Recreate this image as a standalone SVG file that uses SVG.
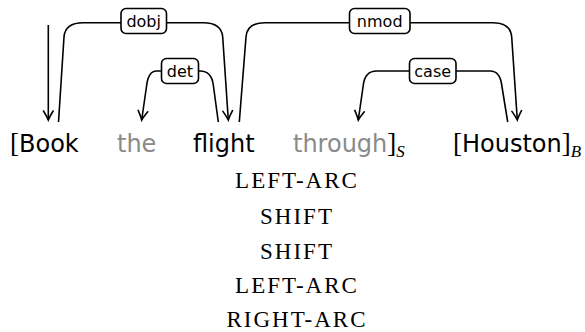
<svg xmlns="http://www.w3.org/2000/svg" width="585" height="332" viewBox="0 0 585 332">
  <style>
    .arc { fill: none; stroke: #000; stroke-width: 1.6; stroke-linejoin: round; }
    .lbl { fill: #fff; stroke: #000; stroke-width: 1.6; }
    .lt { font-family: "DejaVu Sans", sans-serif; font-size: 16px; text-anchor: middle; fill: #000; }
    .w { font-family: "DejaVu Sans", sans-serif; font-size: 24px; fill: #000; }
    .g { fill: #8a8a8a; }
    .br { font-family: "Liberation Serif", serif; font-size: 27px; }
    .sub { font-family: "Liberation Serif", serif; font-style: italic; font-size: 17px; }
    .act { font-family: "Liberation Serif", serif; font-size: 23px; letter-spacing: 2px; text-anchor: middle; fill: #000; }
  </style>
  <defs>
    <marker id="to" viewBox="-11 -6 13 12" markerWidth="13" markerHeight="12" refX="0" refY="0" orient="auto" markerUnits="userSpaceOnUse">
      <path d="M-9,-4.8 Q-3,-1.2 0,0 Q-3,1.2 -9,4.8" fill="none" stroke="#000" stroke-width="1.6" stroke-linecap="round"/>
    </marker>
  </defs>

  <!-- dependency arcs -->
  <g id="connectors">
    <path id="root" class="arc" d="M48.3,25 L48.3,120" marker-end="url(#to)"/>
    <path id="arc-dobj" class="arc" d="M58.5,122 L64,37 Q65,22.7 83.3,22.7 L203.3,22.7 Q221.5,22.7 222.7,37 L228.3,120" marker-end="url(#to)"/>
    <path id="arc-det" class="arc" d="M218.3,122 L213.3,85 Q211.5,71 200,71 L156.7,71 Q148.5,71 146.7,85 L141.7,120" marker-end="url(#to)"/>
    <path id="arc-nmod" class="arc" d="M239.3,122 L246,37 Q247,22.7 265,22.7 L493,22.7 Q510.5,22.7 511.7,37 L517.3,120" marker-end="url(#to)"/>
    <path id="arc-case" class="arc" d="M507.7,122 L501.7,85 Q500,71 490,71 L376.7,71 Q365,71 363.3,85 L358.3,120" marker-end="url(#to)"/>
  </g>

  <!-- arc labels -->
  <g id="label-dobj">
    <rect class="lbl" x="121" y="8.5" width="45.5" height="25" rx="5"/>
    <text class="lt" x="143.7" y="26.5">dobj</text>
  </g>
  <g id="label-det">
    <rect class="lbl" x="161.5" y="58.5" width="37" height="25" rx="5"/>
    <text class="lt" x="180" y="76.5">det</text>
  </g>
  <g id="label-nmod">
    <rect class="lbl" x="349.5" y="8.5" width="60.5" height="25" rx="5"/>
    <text class="lt" x="379.7" y="26.5">nmod</text>
  </g>
  <g id="label-case">
    <rect class="lbl" x="409.5" y="58.5" width="46.5" height="25" rx="5"/>
    <text class="lt" x="432.7" y="76.5">case</text>
  </g>

  <!-- sentence tokens -->
  <g id="tok-book"><text x="10" y="152"><tspan class="br">[</tspan><tspan class="w">Book</tspan></text></g>
  <g id="tok-the"><text class="w g" x="117" y="152">the</text></g>
  <g id="tok-flight"><text class="w" x="193" y="152">flight</text></g>
  <g id="tok-through"><text x="293" y="152"><tspan class="w g">through</tspan><tspan class="br">]</tspan><tspan class="sub" dy="5">S</tspan></text></g>
  <g id="tok-houston"><text x="453" y="152"><tspan class="br">[</tspan><tspan class="w">Houston</tspan><tspan class="br">]</tspan><tspan class="sub" dy="5">B</tspan></text></g>

  <!-- transition sequence -->
  <g id="actions">
    <text class="act" x="297" y="188">LEFT-ARC</text>
    <text class="act" x="297" y="223.5">SHIFT</text>
    <text class="act" x="297" y="258.5">SHIFT</text>
    <text class="act" x="297" y="293">LEFT-ARC</text>
    <text class="act" x="297" y="326.5">RIGHT-ARC</text>
  </g>
</svg>
